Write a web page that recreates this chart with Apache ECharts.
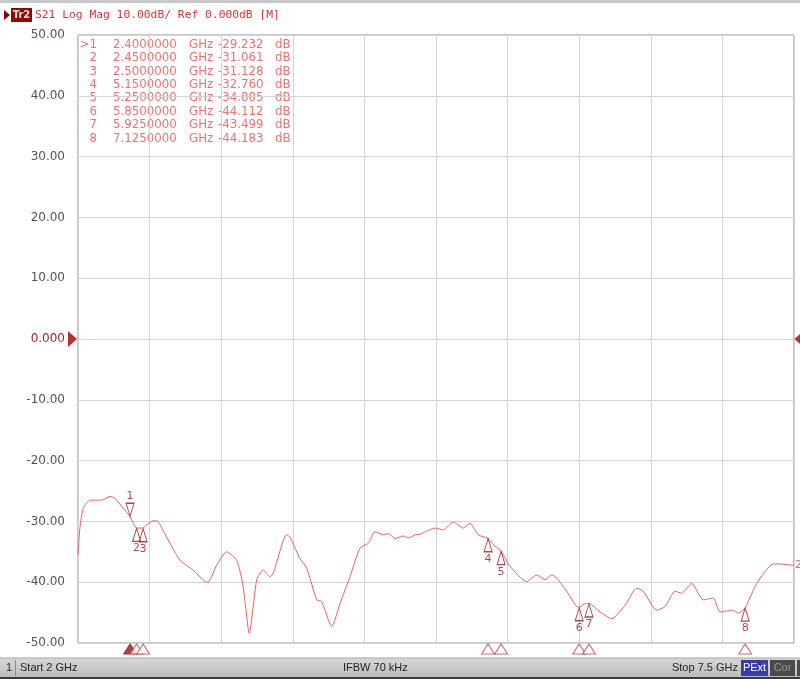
<!DOCTYPE html>
<html><head><meta charset="utf-8">
<script src="https://cdn.jsdelivr.net/npm/echarts@6/dist/echarts.min.js"></script>
<style>html,body{margin:0;padding:0;background:#fff}#c{width:800px;height:679px}</style>
</head><body><div id="c"></div>
<script>
// Trace S21 (GHz, dB)
const freqGHz = [2.000,2.015,2.041,2.092,2.140,2.182,2.246,2.284,2.346,2.400,
  2.425,2.450,2.500,2.530,2.578,2.607,2.660,2.707,2.784,2.883,
  2.976,2.999,3.065,3.142,3.219,3.267,3.316,3.373,3.423,3.475,
  3.500,3.603,3.629,3.705,3.757,3.834,3.872,3.949,4.013,4.089,
  4.166,4.230,4.281,4.345,4.384,4.435,4.499,4.537,4.589,4.627,
  4.742,4.806,4.883,4.960,5.011,5.075,5.150,5.190,5.250,5.319,
  5.447,5.524,5.587,5.639,5.677,5.754,5.831,5.850,5.887,5.925,
  6.010,6.100,6.202,6.292,6.342,6.445,6.509,6.586,6.637,6.714,
  6.803,6.880,6.932,7.034,7.072,7.125,7.214,7.341,7.393,7.482,
  7.500];
const s21dB = [-35.5,-31.0,-27.8,-26.5,-26.5,-26.5,-25.9,-26.2,-27.8,-29.2,
  -30.3,-31.1,-31.1,-30.5,-29.9,-29.9,-31.8,-33.6,-36.4,-38.0,
  -39.9,-40.0,-37.2,-35.0,-36.4,-40.5,-48.4,-39.6,-38.0,-39.1,
  -38.5,-32.2,-32.6,-36.1,-37.7,-42.9,-43.2,-47.3,-43.5,-39.1,
  -34.4,-33.6,-31.7,-32.2,-32.0,-32.8,-32.4,-32.7,-32.2,-32.1,
  -31.1,-31.4,-30.1,-31.1,-30.3,-32.2,-32.8,-33.8,-34.9,-37.4,
  -39.9,-38.8,-39.6,-38.8,-39.3,-41.5,-44.0,-44.1,-43.6,-43.5,
  -44.9,-46.0,-43.8,-41.0,-41.5,-44.6,-44.0,-41.5,-41.8,-40.2,
  -42.9,-42.6,-44.9,-44.6,-45.1,-44.2,-40.2,-37.0,-37.0,-37.2,
  -37.2];
// Markers
const markerFreq = [2.4, 2.45, 2.5, 5.15, 5.25, 5.85, 5.925, 7.125];
const markerDB = [-29.232, -31.061, -31.128, -32.760, -34.885, -44.112, -43.499, -44.183];
// Axis settings / texts
const xStart = 2, xStop = 7.5, yMin = -50, yMax = 50, yStep = 10;
const headerText = 'S21 Log Mag 10.00dB/ Ref 0.000dB [M]';
const traceName = 'Tr2';
const startLabel = 'Start 2 GHz', ifbwLabel = 'IFBW 70 kHz', stopLabel = 'Stop 7.5 GHz';

const TRACE = '#e8625f', MK = '#8e1c1c', TBL = '#e87474';
const upTri = 'path://M5,0L10,14L0,14Z';
const downTri = 'path://M0,0L10,0L5,14Z';
const FONT = '"DejaVu Sans", sans-serif';

const chart = echarts.init(document.getElementById('c'));

const graphics = [];
graphics.push({type:'rect', shape:{x:0,y:0,width:800,height:3}, style:{fill:'#c8c8c8'}});
// header
graphics.push({type:'polygon', shape:{points:[[4,10],[10,15],[4,20]]}, style:{fill:'#8b0000'}});
graphics.push({type:'rect', shape:{x:11,y:8,width:21,height:14}, style:{fill:'#8b0a0a'}});
graphics.push({type:'text', x:21.5, y:15.5, style:{text:traceName, fill:'#ffd8d8', font:'bold 10px '+FONT, align:'center', verticalAlign:'middle', textAlign:'center', textVerticalAlign:'middle'}});
graphics.push({type:'text', x:35, y:15.5, style:{text:headerText, fill:'#d03a3a', font:'11.3px "DejaVu Sans Mono", monospace', verticalAlign:'middle', textVerticalAlign:'middle'}});
// marker table
markerFreq.forEach((f,i)=>{
  const y = 45 + i*13.35;
  const mk = (i===0?'>':'') + (i+1);
  const base = {fill:TBL, font:'11.8px '+FONT, verticalAlign:'middle', textVerticalAlign:'middle'};
  graphics.push({type:'text', x:97, y, style:Object.assign({text:mk, align:'right', textAlign:'right'}, base)});
  graphics.push({type:'text', x:113, y, style:Object.assign({text:f.toFixed(7)}, base)});
  graphics.push({type:'text', x:189, y, style:Object.assign({text:'GHz'}, base)});
  graphics.push({type:'text', x:218, y, style:Object.assign({text:markerDB[i].toFixed(3)}, base)});
  graphics.push({type:'text', x:275, y, style:Object.assign({text:'dB'}, base)});
});
// status bar
graphics.push({type:'rect', shape:{x:0,y:658,width:800,height:19}, style:{fill:new echarts.graphic.LinearGradient(0,0,0,1,[{offset:0,color:'#d8d8d8'},{offset:1,color:'#bcbcbc'}])}});
graphics.push({type:'rect', shape:{x:0,y:677,width:800,height:2}, style:{fill:'#3a3a3a'}});
graphics.push({type:'rect', shape:{x:0,y:657.5,width:800,height:1}, style:{fill:'#a8a8a8'}});
const SB = '11px "Liberation Sans", Arial, sans-serif';
const mid = {verticalAlign:'middle', textVerticalAlign:'middle'};
graphics.push({type:'text', x:6, y:668, style:Object.assign({text:'1', fill:'#222', font:SB}, mid)});
graphics.push({type:'rect', shape:{x:15,y:660,width:1,height:16}, style:{fill:'#8a8a8a'}});
graphics.push({type:'text', x:20, y:668, style:Object.assign({text:startLabel, fill:'#222', font:SB}, mid)});
graphics.push({type:'text', x:343, y:668, style:Object.assign({text:ifbwLabel, fill:'#222', font:SB}, mid)});
graphics.push({type:'text', x:738, y:668, style:Object.assign({text:stopLabel, fill:'#222', font:SB, align:'right', textAlign:'right'}, mid)});
graphics.push({type:'rect', shape:{x:741,y:660,width:27,height:16}, style:{fill:'#3a3aa8'}});
graphics.push({type:'text', x:754.5, y:668, style:Object.assign({text:'PExt', fill:'#fff', font:SB, align:'center', textAlign:'center'}, mid)});
graphics.push({type:'rect', shape:{x:770,y:660,width:25,height:16}, style:{fill:'#4a4a4a'}});
graphics.push({type:'text', x:782.5, y:668, style:Object.assign({text:'Cor', fill:'#9a9a9a', font:SB, align:'center', textAlign:'center'}, mid)});
graphics.push({type:'rect', shape:{x:797,y:660,width:5,height:16}, style:{fill:'#4a4a4a'}});

const option = {
  animation: false,
  backgroundColor: '#fff',
  grid: {left:78, right:6, top:35, bottom:36, show:true, borderColor:'#8c8c8c', borderWidth:1, backgroundColor:'#fff'},
  xAxis: [
    {type:'value', min:xStart, max:xStop, axisLine:{show:false}, axisTick:{show:false}, axisLabel:{show:false}, splitLine:{show:false}},
    {type:'value', min:0, max:10, interval:1, position:'bottom', axisLine:{show:false}, axisTick:{show:false}, axisLabel:{show:false}, splitLine:{show:true, lineStyle:{color:'#d4d4d4', width:1}}}
  ],
  yAxis: {type:'value', min:yMin, max:yMax, interval:yStep,
    axisLine:{show:false}, axisTick:{show:false},
    splitLine:{show:true, lineStyle:{color:'#d4d4d4', width:1}},
    axisLabel:{margin:13, fontSize:12, fontFamily:'DejaVu Sans',
      color:(v)=> Number(v)===0 ? '#9a2a2a' : '#5a5050',
      formatter:(v)=> v===0 ? '0.000' : v.toFixed(2)}},
  graphic: graphics,
  series: [
    {type:'line', xAxisIndex:1, data:[], silent:true},
    {type:'line', data: freqGHz.map((f,i)=>[f, s21dB[i]]), showSymbol:false, smooth:0.2,
      lineStyle:{color:TRACE, width:1}, z:3,
      endLabel:{show:true, formatter:'2', color:TRACE, fontSize:11, fontFamily:'DejaVu Sans', distance:1}},
    {type:'scatter', z:5, clip:false, symbolSize:[8,13],
      data: markerFreq.map((f,i)=>({value:[f, markerDB[i]], symbol: i===0?downTri:upTri, symbolOffset:[0, i===0?-7:7],
        label:{position: i===0?'top':'bottom'}})),
      itemStyle:{color:'rgba(255,255,255,0.01)', borderColor:MK, borderWidth:1.1},
      label:{show:true, formatter:(p)=>String(p.dataIndex+1), color:MK, fontSize:11, fontFamily:'DejaVu Sans', distance:1}},
    {type:'scatter', z:5, clip:false, symbol:upTri, symbolSize:[13,10],
      data: markerFreq.map((f,i)=>({value:[f, yMin], symbolOffset:[0,6],
        itemStyle: i===0 ? {color:MK, borderColor:MK, borderWidth:1} : {color:'#fff', borderColor:'#b04848', borderWidth:1}}))},
    {type:'scatter', z:6, clip:false,
      data:[
        {value:[xStart,0], symbol:'path://M0,0L10,8L0,16Z', symbolSize:[9,16], symbolOffset:[-5.5,0]},
        {value:[xStop,0], symbol:'path://M10,0L0,8L10,16Z', symbolSize:[9,16], symbolOffset:[5,0]}
      ], itemStyle:{color:'#a00000'}}
  ]
};
chart.setOption(option);
</script></body></html>
